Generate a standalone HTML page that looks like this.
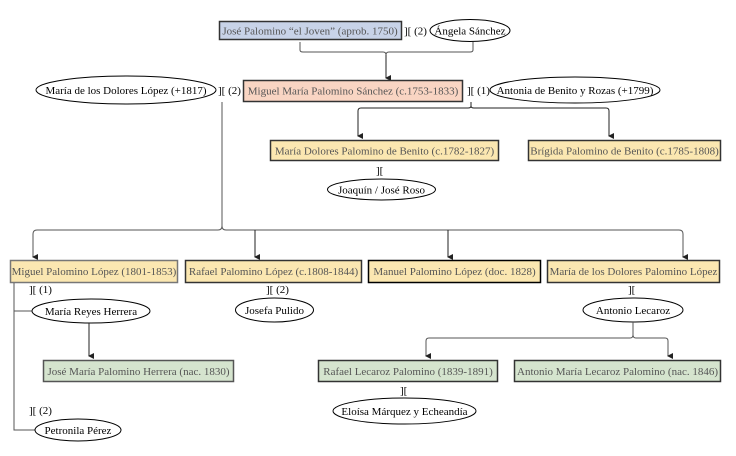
<!DOCTYPE html>
<html><head><meta charset="utf-8"><style>
html,body{margin:0;padding:0;background:#fff;}
svg{display:block;}
text{font-family:"Liberation Serif","Times New Roman",Times,serif;}
.b{stroke:#333;stroke-width:1;}
.bt{font-size:11px;fill:#555;text-anchor:middle;}
.et{font-size:11px;fill:#000;text-anchor:middle;}
.l{fill:none;stroke:#555;stroke-width:1;}
.lk{fill:none;stroke:#222;stroke-width:1;}
.m{font-size:11px;fill:#000;}
</style></head><body>
<svg width="736" height="456" viewBox="0 0 736 456" xmlns="http://www.w3.org/2000/svg" font-family="Liberation Serif, serif">
<defs><marker id="a" markerWidth="6" markerHeight="6" refX="3" refY="5" orient="auto" markerUnits="userSpaceOnUse"><path d="M0,0 L6,0 L3,6 z" fill="#222"/></marker></defs>

<rect x="219.5" y="21.5" width="182" height="18" fill="#c8d3e8" class="b" style="stroke-width:1.5"/>
<text x="310" y="34.5" class="bt">José Palomino “el Joven” (aprob. 1750)</text>
<text x="404" y="34.5" class="m">][ (2)</text>
<ellipse cx="470" cy="30.5" rx="40" ry="11" fill="#fff" stroke="#000"/>
<text x="470" y="34.5" class="et">Ángela Sánchez</text>
<path d="M300,42 V50 Q300,52 303,52 H383 Q386,52 386,55 Q386,52 389,52 H470 Q473,52 473,50 V42" class="l" stroke="#aaa"/>
<path d="M386,55 V78" class="lk" marker-end="url(#a)"/>

<ellipse cx="126" cy="90" rx="90" ry="14" fill="#fff" stroke="#000"/>
<text x="126" y="94" class="et">María de los Dolores López (+1817)</text>
<text x="218" y="94" class="m">][ (2)</text>
<rect x="243.5" y="80.5" width="219" height="21" fill="#f9d5c3" class="b" style="stroke-width:1.5"/>
<text x="353" y="94.5" class="bt">Miguel María Palomino Sánchez (c.1753-1833)</text>
<text x="467" y="94" class="m">][ (1)</text>
<ellipse cx="575" cy="90" rx="85" ry="13" fill="#fff" stroke="#000"/>
<text x="575" y="94" class="et">Antonia de Benito y Rozas (+1799)</text>

<path d="M471,102 V106 Q471,108 468,108 H361 Q358,108 358,111 V136" class="lk" stroke="#555" marker-end="url(#a)"/>
<path d="M471,102 V106 Q471,108 474,108 H606 Q609,108 609,111 V136" class="lk" stroke="#555" marker-end="url(#a)"/>

<rect x="270.5" y="140.5" width="228" height="20" fill="#fbe7b1" class="b" style="stroke-width:1.5"/>
<text x="384.5" y="154.5" class="bt">María Dolores Palomino de Benito (c.1782-1827)</text>
<rect x="528.5" y="140.5" width="192" height="20" fill="#fbe7b1" class="b" style="stroke-width:1.5"/>
<text x="624.5" y="154.5" class="bt">Brígida Palomino de Benito (c.1785-1808)</text>
<text x="376" y="174" class="m">][</text>
<ellipse cx="381.5" cy="189.5" rx="54" ry="10.5" fill="#fff" stroke="#000"/>
<text x="381.5" y="193.5" class="et">Joaquín / José Roso</text>

<path d="M222,102 V226 Q222,230 218,230 H37 Q33,230 33,234 V257" class="l" marker-end="url(#a)"/>
<path d="M222,226 Q222,230 226,230 H679 Q683,230 683,234 V257" class="l" marker-end="url(#a)"/>
<path d="M255,230 V257" class="lk" marker-end="url(#a)"/>
<path d="M448,230 V257" class="lk" marker-end="url(#a)"/>

<rect x="10.5" y="260.5" width="167" height="22" fill="#fbe7b1" class="b" style="stroke:#777;stroke-width:1.5"/>
<text x="94" y="275" class="bt">Miguel Palomino López (1801-1853)</text>
<rect x="185.5" y="260.5" width="176" height="22" fill="#fbe7b1" class="b" style="stroke-width:1.5"/>
<text x="273.5" y="275" class="bt">Rafael Palomino López (c.1808-1844)</text>
<rect x="368.5" y="260.5" width="172" height="22" fill="#fbe7b1" class="b" style="stroke:#000;stroke-width:1.5"/>
<text x="454.5" y="275" class="bt">Manuel Palomino López (doc. 1828)</text>
<rect x="547.5" y="260.5" width="172" height="22" fill="#fbe7b1" class="b" style="stroke-width:1.5"/>
<text x="633.5" y="275" class="bt">María de los Dolores Palomino López</text>

<path d="M14,283 V430 H35" class="l" stroke="#888"/>
<path d="M14,311 H33" class="l" stroke="#888"/>
<text x="29" y="293" class="m">][ (1)</text>
<ellipse cx="91" cy="311" rx="59" ry="12" fill="#fff" stroke="#000"/>
<text x="91" y="315" class="et">María Reyes Herrera</text>
<path d="M89,323 V356" class="lk" marker-end="url(#a)"/>
<rect x="43.5" y="360.5" width="190" height="21" fill="#d5e4ce" class="b" style="stroke:#555;stroke-width:1.5"/>
<text x="138.5" y="375" class="bt">José María Palomino Herrera (nac. 1830)</text>
<text x="29" y="414" class="m">][ (2)</text>
<ellipse cx="78" cy="430" rx="43" ry="11" fill="#fff" stroke="#000"/>
<text x="78" y="434" class="et">Petronila Pérez</text>

<text x="266" y="293" class="m">][ (2)</text>
<ellipse cx="274.5" cy="310" rx="39" ry="12" fill="#fff" stroke="#000"/>
<text x="274.5" y="314" class="et">Josefa Pulido</text>

<text x="628" y="293" class="m">][</text>
<ellipse cx="633" cy="310" rx="50" ry="12" fill="#fff" stroke="#000"/>
<text x="633" y="314" class="et">Antonio Lecaroz</text>
<path d="M633,322 V335 Q633,338 630,338 H429 Q426,338 426,341 V356" class="l" marker-end="url(#a)"/>
<path d="M633,335 Q633,338 636,338 H665 Q668,338 668,341 V356" class="l" marker-end="url(#a)"/>

<rect x="318.5" y="360.5" width="179" height="21" fill="#d5e4ce" class="b" style="stroke-width:1.5"/>
<text x="408" y="375" class="bt">Rafael Lecaroz Palomino (1839-1891)</text>
<rect x="514.5" y="360.5" width="206" height="21" fill="#d5e4ce" class="b" style="stroke-width:1.5"/>
<text x="617.5" y="375" class="bt">Antonio María Lecaroz Palomino (nac. 1846)</text>
<text x="400" y="394" class="m">][</text>
<ellipse cx="404.5" cy="411" rx="71.5" ry="13" fill="#fff" stroke="#000"/>
<text x="404.5" y="415" class="et">Eloísa Márquez y Echeandía</text>
</svg>
</body></html>
